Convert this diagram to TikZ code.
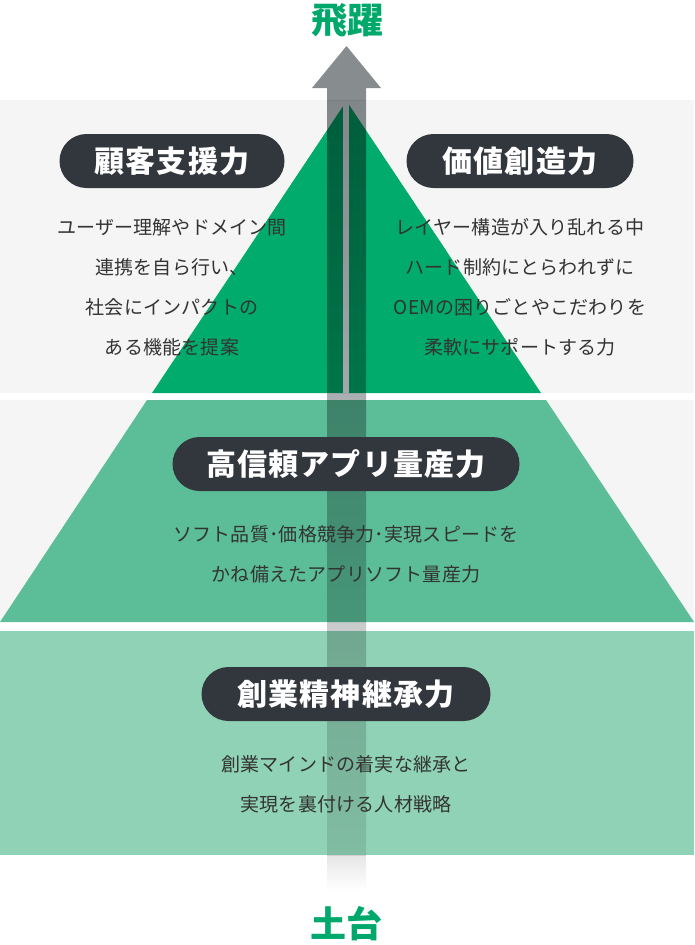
\documentclass[tikz,border=0pt]{standalone}
\usepackage{fontspec}
\newfontfamily\jpbody[LetterSpace=1]{Noto Sans CJK JP}
\newfontfamily\jptitle[LetterSpace=4]{Noto Sans CJK JP}
\newfontfamily\jpgoal{Noto Sans CJK JP}
\definecolor{leapgreen}{HTML}{00A86B}
\definecolor{topgreen}{HTML}{00AB6B}
\definecolor{midgreen}{HTML}{5BBE99}
\definecolor{basegreen}{HTML}{8FD2B5}
\definecolor{panelgray}{HTML}{F5F5F5}
\definecolor{shaftgray}{HTML}{878C8F}
\definecolor{fadegray}{HTML}{E6E6E6}
\definecolor{pilldark}{HTML}{32373D}
\definecolor{bodytext}{HTML}{333333}
\tikzset{
  pill/.style={fill=pilldark,text=white,rounded corners=27pt,minimum height=54pt,
    font=\jptitle\bfseries\fontsize{30}{32}\selectfont},
  body/.style={text=bodytext,align=center,font=\jpbody\fontsize{19}{40}\selectfont},
  goal/.style={text=leapgreen,font=\jpgoal\bfseries\fontsize{36}{38}\selectfont}
}
\begin{document}
\begin{tikzpicture}[x=1pt,y=-1pt]
      \useasboundingbox (0,0) rectangle (694,945);
      \fill[panelgray] (0,100) rectangle (694,393);
      \fill[panelgray] (0,400) rectangle (694,622);
      \fill[basegreen] (0,631) rectangle (694,855);
      \fill[topgreen] (346.5,101) -- (541,393) -- (152,393) -- cycle;
      \fill[panelgray] (343,100) rectangle (349,393);
      \fill[midgreen] (147,400) -- (546,400) -- (694,622) -- (0,622) -- cycle;
      \fill[shaftgray] (346.5,46) -- (381,88) -- (366,88) -- (366,100)
        -- (327,100) -- (327,88) -- (312,88) -- cycle;
      \begin{scope}[blend mode=multiply]
        \shade[top color=shaftgray,bottom color=fadegray] (327,100) rectangle (366,855);
        \shade[top color=fadegray,bottom color=white] (327,855) rectangle (366,890);
      \end{scope}
      \node[goal] (leap) at (347,20) {飛躍};
      \node[goal] (ground) at (346,924) {土台};
      \node[pill,minimum width=225pt] (support) at (172,161) {顧客支援力};
      \node[pill,minimum width=227pt] (value) at (520,161) {価値創造力};
      \node[pill,minimum width=347pt] (mass) at (346,464) {高信頼アプリ量産力};
      \node[pill,minimum width=289pt] (spirit) at (346,694) {創業精神継承力};
      \node[body] (supporttext) at (172,287) {%
        ユーザー理解やドメイン間\\連携を自ら行い、\\社会にインパクトの\\ある機能を提案};
      \node[body] (valuetext) at (520,287) {%
        レイヤー構造が入り乱れる中\\ハード制約にとらわれずに\\OEMの困りごとやこだわりを\\柔軟にサポートする力};
      \node[body] (masstext) at (346,554) {%
        ソフト品質･価格競争力･実現スピードを\\かね備えたアプリソフト量産力};
      \node[body] (spirittext) at (346,784) {%
        創業マインドの着実な継承と\\実現を裏付ける人材戦略};
    \end{tikzpicture}
\end{document}
